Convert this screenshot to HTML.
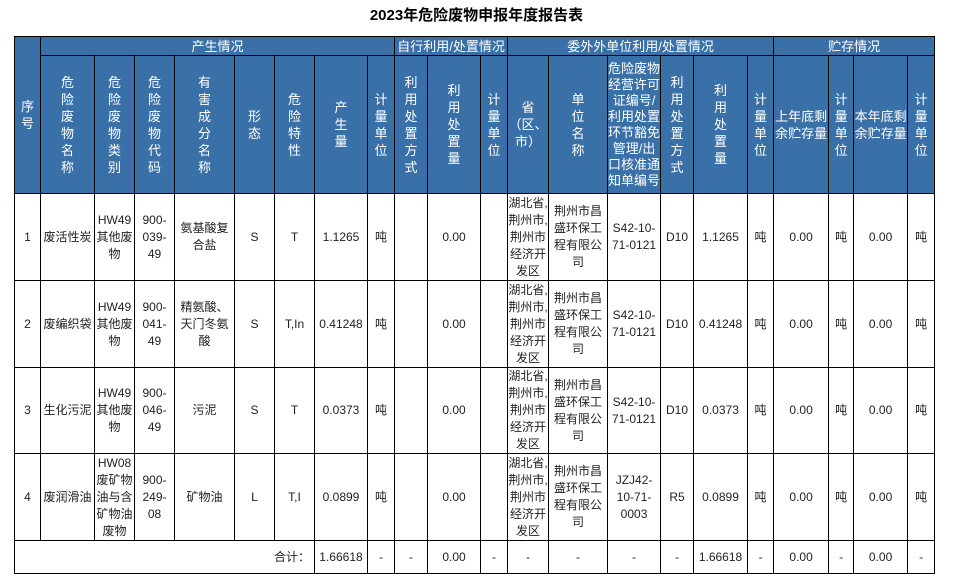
<!DOCTYPE html>
<html><head><meta charset="utf-8"><style>
body{margin:0;background:#fff;width:953px;height:585px;position:relative;font-family:"Liberation Sans","Noto Sans CJK SC",sans-serif;}
h1{position:absolute;top:4px;left:0;width:953px;text-align:center;font-size:15px;font-weight:bold;margin:0;color:#000;}
table{position:absolute;left:14px;top:36px;border-collapse:collapse;table-layout:fixed;width:921px;font-size:12px;color:#222;}
td{border:1px solid #000;text-align:center;vertical-align:middle;padding:0;line-height:17px;overflow:hidden;}
tr.h td{background:#3a70a8;color:#fff;font-size:13px;}
.s{font-size:12px;line-height:16px;}
</style></head><body>
<h1>2023年危险废物申报年度报告表</h1>
<table>
<colgroup><col style="width:26px"><col style="width:54px"><col style="width:40px"><col style="width:40px"><col style="width:60px"><col style="width:40px"><col style="width:40px"><col style="width:53px"><col style="width:27px"><col style="width:33px"><col style="width:53px"><col style="width:27px"><col style="width:41px"><col style="width:59px"><col style="width:53px"><col style="width:33px"><col style="width:54px"><col style="width:26px"><col style="width:55px"><col style="width:25px"><col style="width:54px"><col style="width:27px"></colgroup>
<tr class="h" style="height:19px"><td rowspan="2">序<br>号</td><td colspan="8">产生情况</td><td colspan="3">自行利用/处置情况</td><td colspan="6">委外外单位利用/处置情况</td><td colspan="4">贮存情况</td></tr>
<tr class="h" style="height:138px"><td>危<br>险<br>废<br>物<br>名<br>称</td><td>危<br>险<br>废<br>物<br>类<br>别</td><td>危<br>险<br>废<br>物<br>代<br>码</td><td>有<br>害<br>成<br>分<br>名<br>称</td><td>形<br>态</td><td>危<br>险<br>特<br>性</td><td>产<br>生<br>量</td><td>计<br>量<br>单<br>位</td><td>利<br>用<br>处<br>置<br>方<br>式</td><td>利<br>用<br>处<br>置<br>量</td><td>计<br>量<br>单<br>位</td><td>省<br>（区、<br>市）</td><td>单<br>位<br>名<br>称</td><td class="s">危险废物<br>经营许可<br>证编号/<br>利用处置<br>环节豁免<br>管理/出<br>口核准通<br>知单编号</td><td>利<br>用<br>处<br>置<br>方<br>式</td><td>利<br>用<br>处<br>置<br>量</td><td>计<br>量<br>单<br>位</td><td>上年底剩<br>余贮存量</td><td>计<br>量<br>单<br>位</td><td>本年底剩<br>余贮存量</td><td>计<br>量<br>单<br>位</td></tr>
<tr style="height:87px"><td>1</td><td>废活性炭</td><td>HW49<br>其他废<br>物</td><td>900-<br>039-<br>49</td><td>氨基酸复<br>合盐</td><td>S</td><td>T</td><td>1.1265</td><td>吨</td><td></td><td>0.00</td><td></td><td>湖北省,<br>荆州市,<br>荆州市<br>经济开<br>发区</td><td>荆州市昌<br>盛环保工<br>程有限公<br>司</td><td>S42-10-<br>71-0121</td><td>D10</td><td>1.1265</td><td>吨</td><td>0.00</td><td>吨</td><td>0.00</td><td>吨</td></tr>
<tr style="height:87px"><td>2</td><td>废编织袋</td><td>HW49<br>其他废<br>物</td><td>900-<br>041-<br>49</td><td>精氨酸、<br>天门冬氨<br>酸</td><td>S</td><td>T,In</td><td>0.41248</td><td>吨</td><td></td><td>0.00</td><td></td><td>湖北省,<br>荆州市,<br>荆州市<br>经济开<br>发区</td><td>荆州市昌<br>盛环保工<br>程有限公<br>司</td><td>S42-10-<br>71-0121</td><td>D10</td><td>0.41248</td><td>吨</td><td>0.00</td><td>吨</td><td>0.00</td><td>吨</td></tr>
<tr style="height:86px"><td>3</td><td>生化污泥</td><td>HW49<br>其他废<br>物</td><td>900-<br>046-<br>49</td><td>污泥</td><td>S</td><td>T</td><td>0.0373</td><td>吨</td><td></td><td>0.00</td><td></td><td>湖北省,<br>荆州市,<br>荆州市<br>经济开<br>发区</td><td>荆州市昌<br>盛环保工<br>程有限公<br>司</td><td>S42-10-<br>71-0121</td><td>D10</td><td>0.0373</td><td>吨</td><td>0.00</td><td>吨</td><td>0.00</td><td>吨</td></tr>
<tr style="height:87px"><td>4</td><td>废润滑油</td><td>HW08<br>废矿物<br>油与含<br>矿物油<br>废物</td><td>900-<br>249-<br>08</td><td>矿物油</td><td>L</td><td>T,I</td><td>0.0899</td><td>吨</td><td></td><td>0.00</td><td></td><td>湖北省,<br>荆州市,<br>荆州市<br>经济开<br>发区</td><td>荆州市昌<br>盛环保工<br>程有限公<br>司</td><td>JZJ42-<br>10-71-<br>0003</td><td>R5</td><td>0.0899</td><td>吨</td><td>0.00</td><td>吨</td><td>0.00</td><td>吨</td></tr>
<tr style="height:33px"><td colspan="7" style="text-align:right;padding-right:4px">合计：</td><td>1.66618</td><td>-</td><td>-</td><td>0.00</td><td>-</td><td>-</td><td>-</td><td>-</td><td>-</td><td>1.66618</td><td>-</td><td>0.00</td><td>-</td><td>0.00</td><td>-</td></tr>
</table>
</body></html>
